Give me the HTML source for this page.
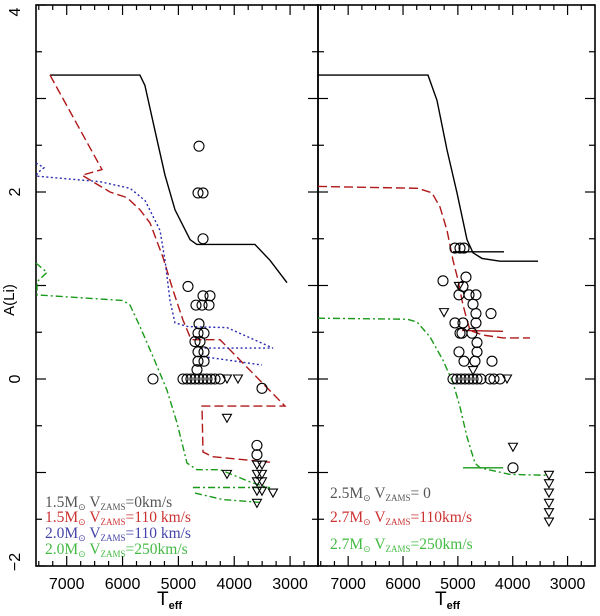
<!DOCTYPE html>
<html><head><meta charset="utf-8"><style>
html,body{margin:0;padding:0;background:#fff;}
svg{display:block;}
text{font-family:"Liberation Sans",sans-serif;}
.lg{font-family:"Liberation Serif",serif;font-size:15.5px;}
</style></head><body>
<svg id="chart" width="600" height="616" viewBox="0 0 600 616" xmlns="http://www.w3.org/2000/svg">
<g id="axes"></g>
<g id="series"></g>
<g id="obs"></g>
<g>
<text class="lg" x="45" y="507" fill="#555">1.5M<tspan font-size="9" dy="3">⊙</tspan><tspan dy="-3"> V</tspan><tspan font-size="9" dy="3">ZAMS</tspan><tspan dy="-3">=0km/s</tspan></text>
<text class="lg" x="45" y="522" fill="#c33">1.5M<tspan font-size="9" dy="3">⊙</tspan><tspan dy="-3"> V</tspan><tspan font-size="9" dy="3">ZAMS</tspan><tspan dy="-3">=110 km/s</tspan></text>
<text class="lg" x="45" y="538" fill="#44a">2.0M<tspan font-size="9" dy="3">⊙</tspan><tspan dy="-3"> V</tspan><tspan font-size="9" dy="3">ZAMS</tspan><tspan dy="-3">=110 km/s</tspan></text>
<text class="lg" x="45" y="554" fill="#4b4">2.0M<tspan font-size="9" dy="3">⊙</tspan><tspan dy="-3"> V</tspan><tspan font-size="9" dy="3">ZAMS</tspan><tspan dy="-3">=250km/s</tspan></text>
</g>
<g>
<text class="lg" x="330" y="498" fill="#555">2.5M<tspan font-size="9" dy="3">⊙</tspan><tspan dy="-3">   V</tspan><tspan font-size="9" dy="3">ZAMS</tspan><tspan dy="-3">=  0</tspan></text>
<text class="lg" x="330" y="522" fill="#c33">2.7M<tspan font-size="9" dy="3">⊙</tspan><tspan dy="-3"> V</tspan><tspan font-size="9" dy="3">ZAMS</tspan><tspan dy="-3">=110km/s</tspan></text>
<text class="lg" x="330" y="549" fill="#4b4">2.7M<tspan font-size="9" dy="3">⊙</tspan><tspan dy="-3"> V</tspan><tspan font-size="9" dy="3">ZAMS</tspan><tspan dy="-3">=250km/s</tspan></text>
</g>
<text x="14" y="300" font-family="Liberation Serif" font-size="15" transform="rotate(-90 14 300)" text-anchor="middle">A(Li)</text>
<text x="157" y="605" font-family="Liberation Serif" font-size="19">T<tspan font-size="11" font-weight="bold" dy="4" font-family="Liberation Sans">eff</tspan></text>
<text x="435" y="605" font-family="Liberation Serif" font-size="19">T<tspan font-size="11" font-weight="bold" dy="4" font-family="Liberation Sans">eff</tspan></text>
</svg>
<script>
// ---- data ----
const xTicks=[7000,6000,5000,4000,3000];
const yTicks=[4,2,0,-2];
// Left panel models
const bk15T=[7300,5690,5600,5420,5240,5060,4790,4670,3630,3360,3055];
const bk15A=[3.25,3.25,3.14,2.66,2.18,1.81,1.49,1.44,1.44,1.27,1.03];
const rd15T=[7300,6368,6726,6225,5920,5688,5508,5276,5097,4918,4792,4739,4255,3091,4577,4559,4398,3360];
const rd15A=[3.25,2.24,2.18,2.00,1.94,1.81,1.67,1.30,0.95,0.63,0.45,0.42,0.42,-0.29,-0.29,-0.78,-0.83,-0.89];
const bl20T=[7550,7407,7514,7550,6404,5867,5598,5329,5240,5150,5061,4828,4130,3306,4577,4559,3503];
const bl20A=[2.31,2.26,2.21,2.17,2.11,2.04,1.91,1.59,1.27,0.84,0.60,0.56,0.55,0.33,0.33,0.24,0.15];
const gr20T=[7550,7353,7532,7532,5992,5867,5688,5455,5204,5025,4846,4667,4255,3718,3360];
const gr20A=[1.24,1.14,1.04,0.90,0.84,0.79,0.56,0.24,-0.12,-0.47,-0.90,-0.97,-0.97,-1.10,-1.17];
const gr20bT=[4739,3360], gr20bA=[-1.16,-1.16];
const gr20cT=[4703,4201,3539], gr20cA=[-1.22,-1.29,-1.32];
// Right panel models
const bk25T=[7550,5545,5381,5198,5016,4834,4724,4560,4232,3539];
const bk25A=[3.25,3.25,2.98,2.45,1.99,1.49,1.35,1.29,1.26,1.26];
const bk25bT=[5089,4159], bk25bA=[1.36,1.36];
const rd27T=[7550,5727,5472,5326,5198,5089,4998,4925,4870,4779,4542,4177,3685];
const rd27A=[2.06,2.04,1.99,1.84,1.59,1.27,1.06,0.84,0.71,0.52,0.47,0.44,0.44];
const rd27bT=[4925,4177], rd27bA=[0.52,0.51];
const gr27T=[7550,5928,5745,5508,5271,5089,4961,4834,4688,4597,4050,3357];
const gr27A=[0.65,0.64,0.61,0.45,0.20,-0.04,-0.30,-0.62,-0.90,-0.95,-1.02,-1.03];
const gr27bT=[4907,4177], gr27bA=[-0.95,-0.95];
// Observations
const circLT=[4631,4649,4559,4559,4828,4559,4434,4685,4577,4452,4631,4649,4541,4703,4613,4649,4541,4649,4541,4667,4918,4846,4775,4703,4631,4559,4488,4416,4344,4255,5455,3503,3593,3593];
const circLA=[2.49,1.99,1.99,1.50,0.99,0.89,0.89,0.79,0.79,0.79,0.59,0.49,0.49,0.40,0.40,0.29,0.29,0.19,0.19,0.10,0,0,0,0,0,0,0,0,0,0,0,-0.10,-0.71,-0.81];
const triLT=[4130,3933,4130,4130,3593,3503,3593,3503,3593,3503,3593,3503,3306,3593];
const triLA=[0,0,-0.42,-1.02,-0.92,-0.92,-1.02,-1.02,-1.10,-1.10,-1.20,-1.20,-1.22,-1.33];
const circRT=[5053,4961,4888,5271,4852,4907,4980,4797,4670,4724,4670,4396,5053,4907,4670,4961,4925,4743,4651,4980,4651,4888,4688,4378,5089,5016,4943,4870,4797,4724,4651,4578,4414,4342,4232,3995];
const circRA=[1.40,1.40,1.40,1.05,1.09,0.99,0.90,0.90,0.90,0.80,0.70,0.70,0.60,0.60,0.60,0.49,0.49,0.49,0.39,0.29,0.29,0.19,0.19,0.19,0,0,0,0,0,0,0,0,0,0,0,-0.95];
const triRT=[5253,4980,4724,4104,3995,3339,3339,3339,3339,3339,3339];
const triRA=[0.71,0.99,0.09,0,-0.73,-1.03,-1.12,-1.22,-1.33,-1.43,-1.53];

// ---- axes functions ----
const L0=36,L1=318,R0=318,R1=595,TOP=5,BOT=566;
const TMAX=7550,TMIN=2500;
function xL(T){return L0+(TMAX-T)*(L1-L0)/(TMAX-TMIN);}
function xR(T){return R0+(TMAX-T)*(R1-R0)/(TMAX-TMIN);}
function yA(a){return 379-a*93.5;}
const NS="http://www.w3.org/2000/svg";
function mk(tag,parent,attrs){const e=document.createElementNS(NS,tag);for(const k in attrs)e.setAttribute(k,attrs[k]);parent.appendChild(e);return e;}
const ax=document.getElementById('axes'),sg=document.getElementById('series'),og=document.getElementById('obs');

[[L0,L1,'left'],[R0,R1,'right']].forEach(([a,b,n])=>{
  const r=mk('rect',ax,{x:a,y:TOP,width:b-a,height:BOT-TOP,fill:'none',stroke:'#000','stroke-width':1.6});
  
  
});
[[xL,'left'],[xR,'right']].forEach(([fx,n])=>{
  for(let T=7500;T>=2500;T-=250){
    const major=T%1000===0,len=major?10:5,x=fx(T);
    if(x<=(n==='left'?L0:R0)+1||x>=(n==='left'?L1:R1)-1)continue;
    const t1=mk('line',ax,{x1:x,x2:x,y1:BOT,y2:BOT-len,stroke:'#000','stroke-width':1.2});
    
    
    const t2=mk('line',ax,{x1:x,x2:x,y1:TOP,y2:TOP+len,stroke:'#000','stroke-width':1.2});
    
    
  }
  xTicks.forEach(T=>{
    const t=mk('text',ax,{x:fx(T),y:589,'text-anchor':'middle','font-size':16});
    t.textContent=T;
    
    
  });
});
for(let v=-2;v<=4.001;v+=0.5){
  const y=yA(v),major=Math.abs(v-Math.round(v))<1e-6,len=major?10:6;
  [[L0,1],[L1,-1],[R0,1],[R1,-1]].forEach(([x,d])=>{
    const t=mk('line',ax,{x1:x,x2:x+d*len,y1:y,y2:y,stroke:'#000','stroke-width':1.2});
    
    
  });
}
yTicks.forEach(v=>{
  let y=yA(v); if(v===4)y=12; if(v===-2)y=562;
  const t=mk('text',ax,{x:20,y:y,'text-anchor':'middle','font-size':16,transform:`rotate(-90 20 ${y})`});
  t.textContent=v<0?'\u2212'+(-v):v;
  
  
});

function line(fx,Ts,As,color,dash,name){
  const d=Ts.map((T,i)=>(i?'L':'M')+fx(T).toFixed(1)+','+yA(As[i]).toFixed(1)).join(' ');
  const p=mk('path',sg,{d:d,fill:'none',stroke:color,'stroke-width':1.4});
  if(dash)p.setAttribute('stroke-dasharray',dash);
  
  
}
line(xL,bk15T,bk15A,'#000',null,'model-1p5-v0');
line(xL,rd15T,rd15A,'#b01818','9,4','model-1p5-v110');
line(xL,bl20T,bl20A,'#2a2ab0','2,2.5','model-2p0-v110');
line(xL,gr20T,gr20A,'#1a9a1a','7,3,2,3','model-2p0-v250');
line(xL,gr20bT,gr20bA,'#1a9a1a','7,3,2,3','model-2p0-v250-b');
line(xL,gr20cT,gr20cA,'#1a9a1a','7,3,2,3','model-2p0-v250-c');
line(xR,bk25T,bk25A,'#000',null,'model-2p5-v0');
line(xR,bk25bT,bk25bA,'#000',null,'model-2p5-v0-b');
line(xR,rd27T,rd27A,'#b01818','9,4','model-2p7-v110');
line(xR,rd27bT,rd27bA,'#b01818',null,'model-2p7-v110-b');
line(xR,gr27T,gr27A,'#1a9a1a','7,3,2,3','model-2p7-v250');
line(xR,gr27bT,gr27bA,'#1a9a1a',null,'model-2p7-v250-b');

function circles(fx,Ts,As,name){
  Ts.forEach((T,i)=>{
    const c=mk('circle',og,{cx:fx(T),cy:yA(As[i]),r:5,fill:'none',stroke:'#000','stroke-width':1.1});
    
    
  });
}
function tris(fx,Ts,As,name){
  Ts.forEach((T,i)=>{
    const x=fx(T),y=yA(As[i]);
    const p=mk('path',og,{d:`M${x-4.5},${y-4} L${x+4.5},${y-4} L${x},${y+4} Z`,fill:'none',stroke:'#000','stroke-width':1.1});
    
    
  });
}
circles(xL,circLT,circLA,'detection-left');
tris(xL,triLT,triLA,'upper-limit-left');
circles(xR,circRT,circRA,'detection-right');
tris(xR,triRT,triRA,'upper-limit-right');
</script>
</body></html>
